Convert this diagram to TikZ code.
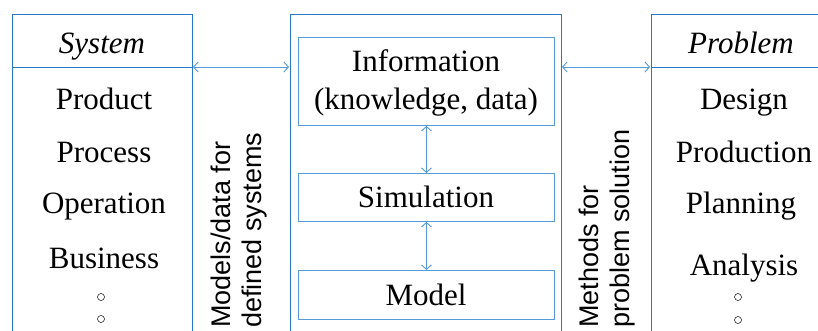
\documentclass[tikz,border=0pt]{standalone}
\usepackage{fontspec}
\setmainfont{Liberation Serif}
\setsansfont{Liberation Sans}
\usetikzlibrary{arrows.meta}
\definecolor{outerblue}{RGB}{40,120,200}
\definecolor{innerblue}{RGB}{85,155,215}
\tikzset{
  frame/.style={draw=outerblue, line width=0.9pt},
  inbox/.style={draw=innerblue, line width=0.9pt},
  link/.style={draw=innerblue, line width=0.9pt, {Straight Barb[length=4.5pt,width=10pt]}-{Straight Barb[length=4.5pt,width=10pt]}},
  lbl/.style={font=\fontsize{31}{35}\selectfont, anchor=base, inner sep=0pt},
  ilbl/.style={lbl, font=\fontsize{31}{35}\selectfont\itshape},
  side/.style={font=\sffamily\fontsize{27}{31}\selectfont, rotate=90, anchor=north west, align=left, inner sep=0pt},
  dotc/.style={circle, draw=black, line width=0.5pt, minimum size=7pt, inner sep=0pt}
}
\begin{document}
\begin{tikzpicture}[x=1pt,y=-1pt]
\useasboundingbox (0,0) rectangle (818,331);
% outer frames
\draw[frame] (12,331) -- (12,14) -- (192,14) -- (192,331);
\draw[frame] (12,67) -- (192,67);
\draw[frame] (290,331) -- (290,14) -- (561,14) -- (561,331);
\draw[frame] (818,14) -- (651,14) -- (651,331);
\draw[frame] (651,67) -- (818,67);
% arrow end points
\coordinate (Lr) at (193,67);
\coordinate (Ml) at (289,67);
\coordinate (Mr) at (562,67);
\coordinate (Rl) at (650,67);
\draw[link] (Lr) -- (Ml);
\draw[link] (Mr) -- (Rl);
% inner boxes
\node[inbox, minimum width=256pt, minimum height=88pt, anchor=north west] (info) at (298,37) {};
\node[inbox, minimum width=256pt, minimum height=48pt, anchor=north west] (sim) at (298,173) {};
\node[inbox, minimum width=256pt, minimum height=49pt, anchor=north west] (model) at (298,270) {};
\node[lbl] (t1) at (426,72) {Information};
\node[lbl] (t2) at (426,110) {(knowledge, data)};
\node[lbl] (t3) at (426,207) {Simulation};
\node[lbl] (t4) at (426,305) {Model};
\draw[link] (info.south) -- (sim.north);
\draw[link] (sim.south) -- (model.north);
% left column
\node[ilbl] (sys) at (102,54) {System};
\node[lbl] (a1) at (104,110) {Product};
\node[lbl] (a2) at (104,162) {Process};
\node[lbl] (a3) at (104,213) {Operation};
\node[lbl] (a4) at (104,268) {Business};
\node[dotc] (d1) at (101,297) {};
\node[dotc] (d2) at (101,319) {};
% right column
\node[ilbl] (prob) at (741,54) {Problem};
\node[lbl] (b1) at (744,110) {Design};
\node[lbl] (b2) at (744,162) {Production};
\node[lbl] (b3) at (741,213) {Planning};
\node[lbl] (b4) at (744,275) {Analysis};
\node[dotc] (e1) at (738,297) {};
\node[dotc] (e2) at (738,320) {};
% side labels
\node[side] (s1) at (211,328) {Models/data for\\defined systems};
\node[side] (s2) at (579,328) {Methods for\\problem solution};
\end{tikzpicture}
\end{document}
